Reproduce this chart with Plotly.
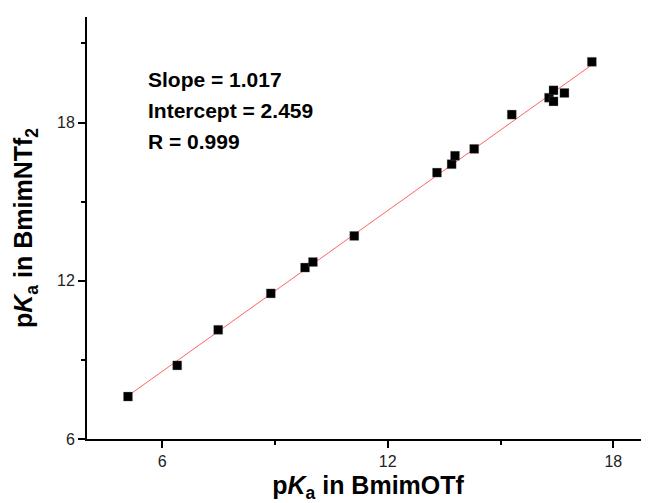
import plotly.graph_objects as go

# pKa values
pka_bmimotf = [5.09, 6.40, 7.49, 8.89, 9.80, 10.01, 11.11, 13.31, 13.70, 13.79,
               14.30, 15.30, 16.29, 16.41, 16.41, 16.70, 17.43]
pka_bmimntf2 = [7.61, 8.79, 10.14, 11.52, 12.50, 12.71, 13.70, 16.10, 16.42, 16.74,
                17.00, 18.30, 18.94, 19.22, 18.80, 19.12, 20.30]

slope = 1.017
intercept = 2.459
r_value = 0.999

stats_lines = [f"Slope = {slope:.3f}", f"Intercept = {intercept:.3f}", f"R = {r_value:.3f}"]
x_ticks = [6, 12, 18]
y_ticks = [6, 12, 18]

FONT = "Arial, Liberation Sans, sans-serif"

x_fit = [min(pka_bmimotf), max(pka_bmimotf)]
y_fit = [slope * v + intercept for v in x_fit]

fig = go.Figure()
fig.add_trace(go.Scatter(
    x=x_fit, y=y_fit, mode="lines",
    line=dict(color="rgb(255,100,100)", width=1),
    showlegend=False, hoverinfo="skip"))
fig.add_trace(go.Scatter(
    x=pka_bmimotf, y=pka_bmimntf2, mode="markers",
    marker=dict(symbol="square", size=9, color="black",
                line=dict(color="rgba(120,120,120,0.6)", width=0.5)),
    showlegend=False))

ann_y = [0.851, 0.778, 0.704]
for txt, yy in zip(stats_lines, ann_y):
    fig.add_annotation(x=0.105, y=yy, xref="paper", yref="paper",
                       xanchor="left", yanchor="middle", showarrow=False,
                       text=f"<b>{txt}</b>",
                       font=dict(family=FONT, size=21, color="black"))

axis_common = dict(
    showline=True, linecolor="black", linewidth=2,
    ticks="outside", ticklen=7, tickwidth=2, tickcolor="black",
    showgrid=False, zeroline=False, mirror=False,
    tickfont=dict(family=FONT, size=16, color="#222"),
)

fig.update_xaxes(
    range=[4.0, 18.95], tickvals=x_ticks,
    minor=dict(ticks="outside", ticklen=4, tickwidth=2, tickcolor="black", dtick=3, tick0=0),
    title=dict(text="<b>p<i>K</i><sub>a</sub> in BmimOTf</b>",
               font=dict(family=FONT, size=25, color="black"), standoff=15),
    **axis_common)
fig.update_yaxes(
    range=[6, 22], tickvals=y_ticks,
    minor=dict(ticks="outside", ticklen=4, tickwidth=2, tickcolor="black", dtick=3, tick0=0),
    title=dict(text="<b>p<i>K</i><sub>a</sub> in BmimNTf<sub>2</sub></b>",
               font=dict(family=FONT, size=25, color="black"), standoff=17),
    **axis_common)

# the page adds an 8px body margin, so the figure is 8px smaller and margins are reduced
fig.update_layout(
    width=641, height=495,
    margin=dict(l=79, r=0, t=9, b=58.5),
    plot_bgcolor="white", paper_bgcolor="white",
)

fig.write_html("out.html")
